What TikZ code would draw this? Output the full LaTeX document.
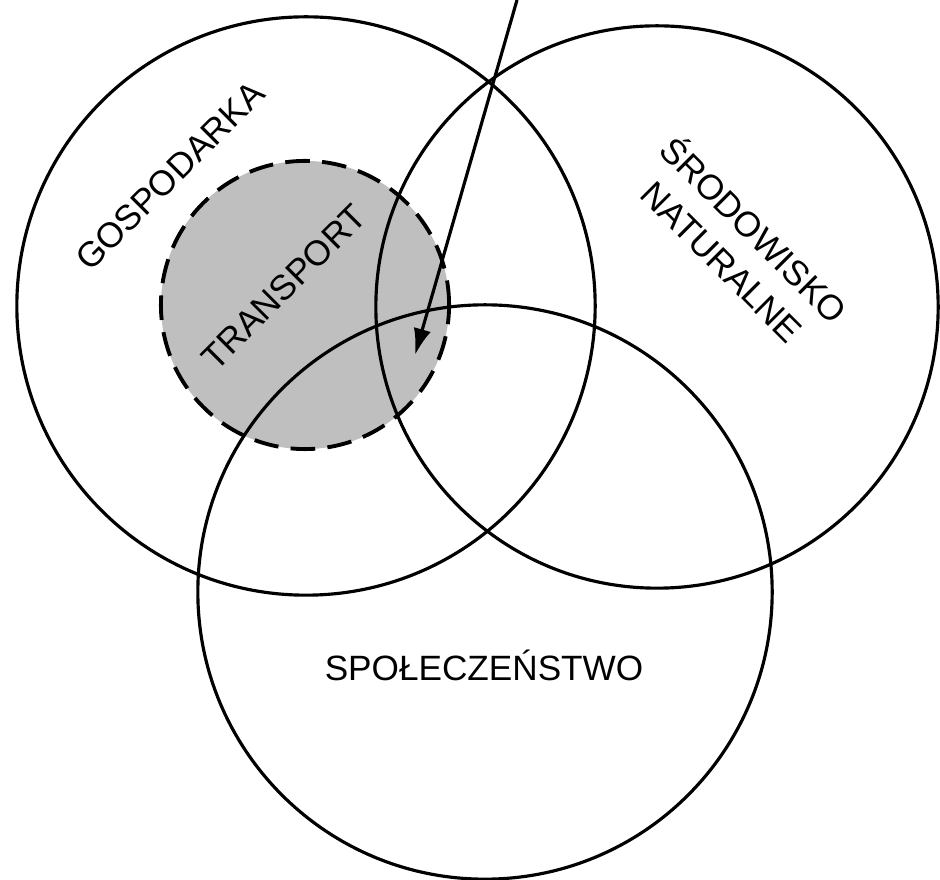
\documentclass[tikz,border=0pt]{standalone}
\usepackage{fontspec}
\setmainfont{Liberation Sans}
\usetikzlibrary{arrows.meta}

\begin{document}
\begin{tikzpicture}[x=0.01cm,y=-0.01cm,
  krag/.style={draw=black,circle,line width=0.9pt,inner sep=0pt},
  transkrag/.style={circle,inner sep=0pt,draw=black,line width=1.1pt,dash pattern=on 7pt off 3.5pt},
  napis/.style={font=\fontsize{10}{12.8}\selectfont,align=center,inner sep=1pt},
  strzalka/.style={line width=0.9pt,-{Latex[length=7.5pt,width=5pt]}}]
\useasboundingbox (0,0) rectangle (940,880);
% szare kolo pod spodem
\node[circle,inner sep=0pt,fill=black!25,minimum size=2.88cm] (transtlo) at (305,305) {};
\node[krag,minimum size=5.78cm] (gosp) at (306,306) {};
\node[krag,minimum size=5.62cm] (srod) at (657,307) {};
\node[krag,minimum size=5.74cm] (spol) at (485,592) {};
\node[transkrag,minimum size=2.88cm] (trans) at (305,305) {};
% napisy
\node[napis,rotate=45] (gospnapis) at (170,176) {GOSPODARKA};
\node[napis,rotate=45] (transnapis) at (284,287) {TRANSPORT};
\node[napis,rotate=-45] (srodnapis) at (740,244) {ŚRODOWISKO\\NATURALNE};
\node[napis] (spolnapis) at (484,665) {SPOŁECZEŃSTWO};
% strzalka
\coordinate (start) at (517,0);
\coordinate (cel) at (415,355);
\draw[strzalka] (start) -- (cel);
\end{tikzpicture}
\end{document}
